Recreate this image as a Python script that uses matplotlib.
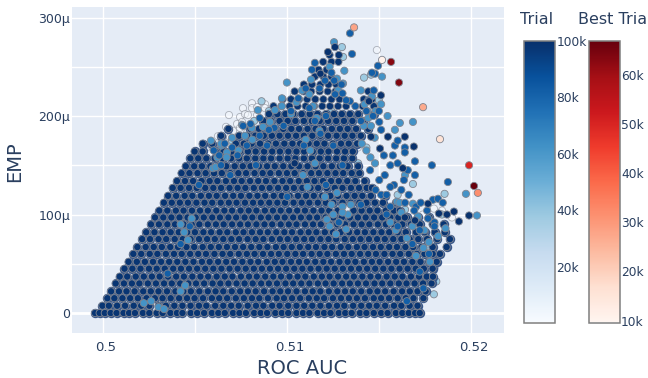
import matplotlib
matplotlib.use('Agg')
from matplotlib import pyplot as plt
from matplotlib.colors import Normalize
from matplotlib.cm import ScalarMappable
from matplotlib.transforms import ScaledTranslation
import numpy as np

# ROC AUC is stored as (value - 0.5) * 1e5, EMP is stored in micro units
row_emp = [0, 7.4, 15, 22, 30, 37, 45, 52, 60, 67, 75, 82, 90, 97, 104, 112, 119, 127, 134, 142,
           149, 157, 164, 172, 180, 187, 195, 202, 210, 217, 225, 232, 240, 247, 255, 262]
row_roc = [
    [-45,-20,8,40,72,110,140,172,215,250,290,322,365,400,430,475,510,548,590,625,660,705,740,775,820,855,890,935,970,1005,1050,1085,1120,1165,1200,1235,1280,1315,1350,1395,1430,1470,1510,1545,1590,1625,1660,1695,1720],
    [-5,30,75,118,165,206,250,300,340,386,430,474,520,560,608,652,695,736,785,830,870,918,958,1005,1050,1092,1136,1180,1226,1270,1310,1358,1402,1445,1486,1532,1580,1620,1665,1708],
    [22,60,104,146,188,235,280,322,366,412,455,496,542,590,630,673,720,764,808,848,895,942,982,1026,1070,1117,1160,1200,1248,1292,1335,1378,1422,1470,1510,1553,1600,1644,1686,1740],
    [42,85,126,170,217,258,300,346,392,435,476,522,568,610,652,698,744,786,828,874,920,962,1004,1050,1096,1138,1180,1226,1272,1314,1356,1402,1448,1490,1532,1578,1624,1666,1708,1752],
    [67,112,155,196,242,286,330,372,418,462,504,548,594,636,680,724,768,812,858,900,944,990,1032,1076,1120,1166,1208,1252,1298,1340,1384,1428,1474,1516,1560,1606,1648,1692,1738,1784],
    [89,130,176,220,264,306,352,396,438,484,528,570,616,660,702,748,792,834,880,924,966,1012,1056,1098,1144,1188,1230,1276,1320,1362,1408,1452,1494,1540,1584,1626,1672,1716,1758,1792],
    [115,158,202,248,290,334,380,422,466,510,554,598,642,686,730,774,818,862,906,950,994,1038,1082,1126,1170,1214,1258,1302,1346,1390,1434,1478,1522,1566,1610,1654,1698,1742,1790],
    [137,182,226,270,314,358,402,446,490,536,578,624,668,710,756,800,842,888,932,974,1020,1064,1106,1152,1196,1238,1284,1328,1370,1416,1460,1502,1548,1592,1634,1680,1724,1768,1812],
    [163,206,252,294,340,384,426,472,516,558,604,648,690,736,780,822,868,912,954,1000,1044,1086,1132,1176,1218,1264,1308,1350,1396,1440,1482,1528,1572,1614,1660,1704,1746,1790,1830],
    [185,230,274,318,364,406,452,494,540,584,628,672,716,760,804,848,892,938,980,1024,1068,1114,1156,1202,1244,1290,1332,1378,1420,1466,1508,1554,1596,1642,1684,1730,1790,1866],
    [211,254,300,342,388,432,474,520,564,606,652,696,738,784,828,870,916,960,1002,1048,1092,1134,1180,1224,1266,1312,1356,1398,1444,1488,1530,1576,1620,1665,1712,1760,1815,1884],
    [233,278,322,366,410,456,498,544,586,632,674,720,762,808,852,894,940,984,1026,1072,1116,1158,1204,1248,1290,1336,1380,1422,1468,1512,1554,1600,1644,1700,1746,1802,1856],
    [259,302,348,390,436,480,522,568,612,654,700,744,786,832,876,918,964,1008,1050,1096,1140,1182,1228,1272,1314,1360,1404,1446,1492,1536,1580,1625,1672,1720,1790,1850],
    [281,326,370,414,458,502,546,592,634,680,722,768,810,856,898,944,986,1032,1074,1120,1162,1208,1250,1296,1340,1384,1426,1472,1516,1560,1604,1650,1710,1772],
    [304,348,394,436,482,526,568,614,658,700,746,790,832,878,922,964,1010,1054,1096,1142,1186,1228,1274,1360,1404,1448,1490,1536,1580,1612],
    [329,372,416,460,506,550,592,638,682,724,770,814,856,902,946,988,1034,1078,1120,1166,1210,1250,1300,1344,1392,1430,1476,1520,1590],
    [352,396,442,484,530,574,616,662,706,748,794,838,880,926,970,1012,1058,1102,1144,1190,1234,1276,1322,1366,1408,1454,1530],
    [377,420,466,508,554,598,640,686,730,772,818,862,904,950,994,1036,1082,1126,1168,1214,1258,1300,1346,1390,1432,1460],
    [400,444,488,534,578,620,666,710,752,798,842,884,930,974,1016,1062,1106,1148,1194,1238,1280,1326,1370,1420],
    [425,468,512,556,602,644,690,734,776,822,866,908,954,998,1040,1086,1130,1172,1218,1262,1304,1350,1392],
    [448,494,536,582,626,668,714,758,800,846,890,932,978,1022,1064,1110,1154,1196,1242,1286,1328,1385],
    [473,516,560,606,648,694,738,780,826,870,912,958,1002,1044,1090,1134,1176,1222,1266,1308,1354],
    [496,540,610,654,696,742,786,828,874,918,960,1006,1050,1092,1138,1182,1224,1270,1314,1356],
    [540,592,720,764,806,852,896,938,984,1028,1070,1116,1160,1202,1248,1292,1334,1380],
    [640,738,782,826,872,916,958,1004,1048,1090,1136,1180,1222,1268,1312,1354,1400],
    [680,800,846,890,932,978,1022,1064,1110,1154,1196,1242,1286,1328,1374,1440],
    [870,912,958,1002,1044,1090,1134,1176,1222,1266,1308,1354,1410],
    [900,946,990,1032,1078,1122,1164,1210,1254,1296,1340,1386,1470],
    [925,968,1012,1056,1100,1146,1190,1232,1276,1320,1410,1470],
    [975,1020,1064,1108,1152,1196,1240,1284,1416,1460],
    [1040,1090,1130,1176,1220,1262,1440],
    [1090,1134,1180,1224,1266],
    [1150,1196,1240],
    [1170,1214],
    [1195,1240,1278],
    [1230,1280],
]

# mid blue points mixed through the cloud
blue_roc = [1341,1352,1150,1134,1493,1477,1460,1498,1466,1585,1525,1574,1639,1639,1694,1786,1694,1634,1873,1792,1819,
            1340,1300,1255,1210,1400,1430,1370,1100,1060,1020,980,1180,1150,1120,1090,1250,1300,1210,930,890,850,
            1540,1600,1680,1720,1770,1740,1650,1560,1510,1450,1400,600,640,690,730,780,830,520,470,350,420,1000,1280,
            1560,1600,1530,1580,1620,1540,1500,1480,1660,1655,1600,1560,1700,1725,1765,1800,1640,1690,1720,1760,1800,1845,
            660,700,630,760,800,850,900,1175,1205,1240,1260,1295,1320,1440,1470,1500,1510]
blue_emp = [284,263,254,247,251,243,244,205,200,170,160,160,168,163,154,150,140,135,133,115,116,
            215,223,236,200,195,205,210,228,218,205,190,182,195,208,170,170,150,130,188,170,180,
            100,88,70,42,60,25,12,108,120,145,110,165,150,140,160,170,150,130,88,40,70,118,92,
            150,152,140,130,125,120,135,125,120,145,175,128,108,112,96,92,112,104,84,104,88,112,
            172,168,160,190,192,198,186,228,236,244,222,232,216,216,226,194,186]

# teal points, patches of older trials
teal_roc = [998,971,971,933,840,754,808,868,906,672,596,1254,1303,1276,1515,1080,1129,1612,1683,1585,1477,1971,2031,1683,1596,
            1120,1140,1160,1175,1100,1125,1150,1085,1110,1400,1420,1440,1460,1480,1415,1435,1455,1475,1405,1430,1452,
            1205,1240,1270,1300,1330,1215,1250,1285,1320,1230,1265,1300,1345,585,620,640,610,420,440,460,480,
            220,260,300,330,420,445,1560,1590,1620,1650,1680,1710,1745,1770,1820,1860,1740,1700,1775,
            700,735,770,810,640,670,1020,1050,1230,1270,1310,1510,1545,1640,1610]
teal_emp = [234,218,210,206,206,191,188,189,194,163,147,275,233,226,240,226,237,193,194,186,152,121,99,111,113,
            222,210,198,185,176,165,152,140,128,226,212,198,220,205,190,205,190,178,172,165,158,
            118,110,122,108,100,95,100,92,85,88,80,102,110,175,158,170,148,90,82,74,96,
            10,12,6,4,22,28,92,84,102,76,88,98,84,72,78,86,66,58,52,
            178,165,180,176,172,158,202,214,250,238,246,212,200,140,112]

# pale blue points
pale_roc = [1297,1303,1455,1498,1417,1683,1428,1797,1600,1640,1725,1760,1855,1841,900,860,820,960,700,1240,1430,1385,1800,1810]
pale_emp = [270,260,242,216,239,131,193,19,120,105,88,68,121,100,205,215,195,182,175,205,168,152,46,32]

# nearly white points, the earliest trials
early_roc = [683,743,759,808,808,836,879,879,770,786,727,754,667,705,743,623,650,689,591,618,645,580,781,836,1036,1487,1384,1368,1406,1797,1841,1895,1737,1721]
early_emp = [201,199,208,213,208,209,212,208,202,201,192,194,189,185,188,179.5,178.5,178.5,169,172,172,162,183,201,221,267,168,142,185,106,104,97,100,1]

# navy points outside of the dense rows
late_roc = [1221,1259,1509,1444,1455,1547,1639,1504,1688,1628,1824,1868,1906,1933,1988,1765,1639,1694,1040,1180]
late_emp = [265,270,221,215,179,179,179,167,169,147,101,100,103,93,99,111,97,94,152,243]

# best trials
best_roc = [1515,1363,1564,1607,1738,1830,1988,2015,2036]
best_emp = [257,290,255,234,209,176.5,150,129,122]
best_trial = [10500,28000,63000,64000,27000,16000,50000,67000,32000]

blue_trial = 82000
teal_trial = 62000
pale_trial = 38000
early_trial = 1500
late_trial = 99000
row_trial = 98000

x_ticks = [0.5, 0.505, 0.51, 0.515, 0.52]
x_labels = ['0.5', '', '0.51', '', '0.52']
y_ticks = [0, 50, 100, 150, 200, 250, 300]
y_labels = ['0', '', '100µ', '', '200µ', '', '300µ']
trial_ticks = [20000, 40000, 60000, 80000, 100000]
trial_labels = ['20k', '40k', '60k', '80k', '100k']
best_ticks = [10000, 20000, 30000, 40000, 50000, 60000]
best_labels = ['10k', '20k', '30k', '40k', '50k', '60k']

text_color = '#2a3f5f'
edge_color = '#808590'
W, H = 648, 378

plt.rcParams['font.family'] = 'DejaVu Sans'
fig = plt.figure(figsize=(W / 100, H / 100), dpi=100)
ax = fig.add_axes([71.5 / W, 1 - 333 / H, 432.5 / W, 326 / H])
ax.set_facecolor('#e5ecf6')
for s in ax.spines.values():
    s.set_visible(False)

trial_norm = Normalize(250, 100000)
best_norm = Normalize(9600, 67000)


def roc(values):
    return 0.5 + np.array(values, dtype=float) / 1e5


def draw(xs, ys, trial, z, alpha=1):
    ax.scatter(roc(xs), ys, c=[trial] * len(xs), cmap='Blues', norm=trial_norm, s=27, alpha=alpha,
               edgecolors=edge_color, linewidths=0.6, zorder=z)


draw(early_roc, early_emp, early_trial, 3, 0.6)
draw(pale_roc, pale_emp, pale_trial, 4)

# dense cloud row by row
cloud_x = []
cloud_y = []
for e, xs in zip(row_emp, row_roc):
    cloud_x += xs
    cloud_y += [e] * len(xs)

# wider grey blue backing under the dots, closes the holes between them
back = np.array(cloud_y) < 205
ax.scatter(roc(cloud_x)[back], np.array(cloud_y)[back], s=46, color='#38578a', linewidths=0, zorder=4.5)

draw(cloud_x, cloud_y, row_trial, 5)
draw(teal_roc, teal_emp, teal_trial, 6)
draw(blue_roc, blue_emp, blue_trial, 7)
draw(late_roc, late_emp, late_trial, 8)

ax.scatter(roc(best_roc), best_emp, c=best_trial, cmap='Reds', norm=best_norm, s=27,
           edgecolors=edge_color, linewidths=0.6, zorder=9)

ax.set_xlim(0.49827, 0.52178)
ax.set_ylim(-20.3, 310.7)
ax.set_xticks(x_ticks)
ax.set_xticklabels(x_labels)
ax.set_yticks(y_ticks)
ax.set_yticklabels(y_labels)
ax.grid(color='white', linewidth=1)
ax.set_axisbelow(True)
ax.axhline(0, color='white', linewidth=2, zorder=1)
ax.tick_params(axis='x', length=0, labelsize=9.5, labelcolor=text_color, pad=6)
ax.tick_params(axis='y', length=0, labelsize=9, labelcolor=text_color, pad=1)
shift = ScaledTranslation(2.5 / 100, 0, fig.dpi_scale_trans)
for t in ax.get_xticklabels():
    t.set_transform(t.get_transform() + shift)

fig.text(302 / W, 1 - 368 / H, 'ROC AUC', color=text_color, fontsize=14, ha='center', va='center')
fig.text(15 / W, 1 - 162 / H, 'EMP', color=text_color, fontsize=14, rotation=90, ha='center', va='center')

# two colorbars on the right
cax1 = fig.add_axes([523.5 / W, 1 - 322.5 / H, 31.5 / W, 281.5 / H])
cb1 = fig.colorbar(ScalarMappable(norm=trial_norm, cmap='Blues'), cax=cax1)
cb1.set_ticks(trial_ticks)
cb1.set_ticklabels(trial_labels)
cax2 = fig.add_axes([589 / W, 1 - 322.5 / H, 30.5 / W, 281.5 / H])
cb2 = fig.colorbar(ScalarMappable(norm=best_norm, cmap='Reds'), cax=cax2)
cb2.set_ticks(best_ticks)
cb2.set_ticklabels(best_labels)
for cb in (cb1, cb2):
    cb.ax.tick_params(length=0, labelsize=8.8, labelcolor=text_color, pad=1)
    cb.outline.set_edgecolor('#7f7f7f')
    cb.outline.set_linewidth(1.1)

fig.text(520 / W, 1 - 20 / H, 'Trial', color=text_color, fontsize=11.5, ha='left', va='center')
fig.text(578 / W, 1 - 20 / H, 'Best Trial', color=text_color, fontsize=11.5, ha='left', va='center')

plt.savefig('out.png', dpi=100)
